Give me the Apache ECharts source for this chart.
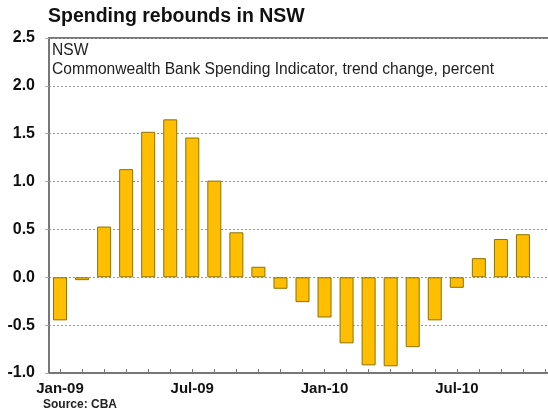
<!DOCTYPE html>
<html><head><meta charset="utf-8">
<script src="https://cdn.jsdelivr.net/npm/echarts@6/dist/echarts.min.js"></script>
<style>html,body{margin:0;padding:0;background:#fff}#c{width:548px;height:416px}</style>
</head><body><div id="c"></div>
<script>
const categories = ['Jan-09','Feb-09','Mar-09','Apr-09','May-09','Jun-09','Jul-09','Aug-09','Sep-09','Oct-09','Nov-09','Dec-09',
  'Jan-10','Feb-10','Mar-10','Apr-10','May-10','Jun-10','Jul-10','Aug-10','Sep-10','Oct-10','Nov-10'];
const values = [-0.45,-0.03,0.53,1.13,1.52,1.65,1.46,1.01,0.47,0.11,-0.12,-0.26,
  -0.42,-0.69,-0.92,-0.93,-0.73,-0.45,-0.11,0.20,0.40,0.45,null];
const yTicks = {min:-1.0, max:2.5, interval:0.5};
const title = 'Spending rebounds in NSW';
const sub1 = 'NSW';
const sub2 = 'Commonwealth Bank Spending Indicator, trend change, percent';
const source = 'Source: CBA';

const chart = echarts.init(document.getElementById('c'), null, {renderer:'canvas'});
const F = 'Arial, "Liberation Sans", sans-serif';
chart.setOption({
  animation:false,
  backgroundColor:'#fff',
  grid:{left:49, top:38, width:507, height:335, outerBoundsMode:'none', containLabel:false,
    show:true, borderColor:'#777', borderWidth:2, backgroundColor:'transparent'},
  graphic:[
    {type:'text', left:48, top:7, style:{text:title, font:'bold 19.5px '+F, fill:'#111'}},
    {type:'text', left:52, top:43, style:{text:sub1, font:'15.6px '+F, fill:'#222'}},
    {type:'text', left:52, top:62, style:{text:sub2, font:'15.6px '+F, fill:'#222'}},
    {type:'text', left:43, top:399, style:{text:source, font:'bold 12px '+F, fill:'#222'}}
  ],
  xAxis:{type:'category', data:categories, boundaryGap:true,
    axisLine:{onZero:false, lineStyle:{color:'#777', width:2}},
    axisTick:{show:true, inside:true, length:4, alignWithLabel:true, interval:0, lineStyle:{color:'#777'}},
    axisLabel:{interval:5, margin:8, color:'#111', fontFamily:F, fontWeight:'bold', fontSize:15},
    splitLine:{show:false}},
  yAxis:{type:'value', min:yTicks.min, max:yTicks.max, interval:yTicks.interval,
    axisLine:{show:true, lineStyle:{color:'#777', width:2}},
    axisTick:{show:true, length:4, lineStyle:{color:'#aaa'}},
    axisLabel:{margin:14, color:'#111', fontFamily:F, fontWeight:'bold', fontSize:16, formatter:v=>v.toFixed(1)},
    splitLine:{show:true, lineStyle:{color:'#999', type:[2,2], width:1}}},
  series:[{type:'bar', data:values, barWidth:14,
    itemStyle:{color:'#FFBF00', borderColor:'#8C7200', borderWidth:1}}]
});
</script></body></html>
